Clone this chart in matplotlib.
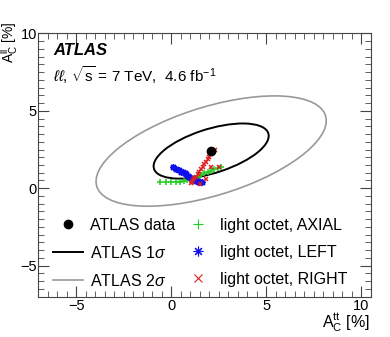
import numpy as np
import matplotlib.pyplot as plt
from matplotlib.patches import Ellipse
from matplotlib.lines import Line2D
from matplotlib.ticker import MultipleLocator

plt.rcParams["font.family"] = ["Liberation Sans", "DejaVu Sans"]
plt.rcParams["mathtext.fontset"] = "custom"
plt.rcParams["mathtext.rm"] = "Liberation Sans"
plt.rcParams["mathtext.it"] = "Liberation Sans:italic"

# ATLAS measurement (A_C^tt, A_C^ll) in %
data_x = [2.1]
data_y = [2.4]
# 1 sigma ellipse parameters
sig_x = 3.03
sig_y = 1.78
rho = 0.55

# light octet predictions
axial_x = [-0.58, -0.30, -0.04, 0.23, 0.47, 0.66, 0.85, 1.00, 1.13, 1.31, 1.45, 1.57, 1.75, 1.92, 2.10, 2.27, 2.45, 2.62]
axial_y = [0.39, 0.39, 0.39, 0.41, 0.43, 0.47, 0.50, 0.52, 0.54, 0.64, 0.76, 0.86, 0.97, 1.03, 1.14, 1.25, 1.33, 1.39]
left_x = [0.10, 0.25, 0.40, 0.52, 0.62, 0.70, 0.79, 0.87, 0.96, 1.05, 1.13, 1.22, 1.31, 1.40, 1.48, 1.62]
left_y = [1.35, 1.27, 1.18, 1.07, 1.02, 0.97, 0.90, 0.81, 0.72, 0.64, 0.60, 0.54, 0.49, 0.45, 0.42, 0.40]
right_x = [1.05, 1.10, 1.13, 1.22, 1.31, 1.40, 1.48, 1.57, 1.66, 1.75, 1.83, 1.92, 2.01, 2.10, 2.22, 2.32, 1.83, 2.10, 2.53, 1.50]
right_y = [0.32, 0.39, 0.54, 0.64, 0.75, 0.90, 1.07, 1.23, 1.39, 1.55, 1.72, 1.88, 2.04, 2.20, 2.36, 2.45, 0.60, 1.39, 1.39, 0.30]

green = "#22cc22"
blue = "#1010ee"
red = "#e02020"
star = (8, 2, 0)  # asterisk made of + and x

fig = plt.figure(figsize=(3.9, 3.37), dpi=100)
ax = fig.add_axes([38.3 / 390, 1 - 296.7 / 337, 332.4 / 390, 263.4 / 337])

cov = np.array([[sig_x**2, rho * sig_x * sig_y], [rho * sig_x * sig_y, sig_y**2]])
vals, vecs = np.linalg.eigh(cov)
angle = np.degrees(np.arctan2(vecs[1, 1], vecs[0, 1]))
for n, col, lw in [(1, "black", 1.4), (2, "#999999", 1.2)]:
    ax.add_patch(Ellipse((data_x[0], data_y[0]), 2 * n * np.sqrt(vals[1]), 2 * n * np.sqrt(vals[0]),
                         angle=angle, fill=False, color=col, lw=lw))

ax.plot(axial_x, axial_y, "+", color=green, ms=4.5, mew=1.1, ls="none")
ax.plot(left_x, left_y, marker=star, color=blue, ms=5, mew=1.0, ls="none")
ax.plot(right_x, right_y, "x", color=red, ms=3.5, mew=1.1, ls="none")
ax.plot(data_x, data_y, "o", color="black", ms=6)

ax.set_xlim(-7, 10.5)
ax.set_ylim(-7, 10)
ax.xaxis.set_major_locator(MultipleLocator(5))
ax.xaxis.set_minor_locator(MultipleLocator(0.5))
ax.yaxis.set_major_locator(MultipleLocator(5))
ax.yaxis.set_minor_locator(MultipleLocator(0.5))
ax.tick_params(which="both", direction="in", top=True, right=True, labelsize=10.5, color="#444444")
ax.tick_params(which="major", length=8, pad=1.5)
ax.tick_params(axis="y", which="major", pad=1)
ax.tick_params(which="minor", length=4)
for s in ax.spines.values():
    s.set_color("#444444")

fig.text(9.5 / 390, 1 - 21 / 337, r"A$_\mathrm{C}^\mathrm{ll}$ [%]", rotation=90, ha="center", va="top", fontsize=10)
fig.text(370 / 390, 1 - 328 / 337, r"A$_\mathrm{C}^\mathrm{tt}$ [%]", ha="right", va="baseline", fontsize=11.5)

ax.text(0.044, 0.933, "ATLAS", transform=ax.transAxes, fontsize=12, fontweight="bold", style="italic", va="center")
ax.text(0.044, 0.842, r"$\ell\ell$, $\sqrt{\mathrm{s}}$ = 7 TeV,  4.6 fb$^{-1}$", transform=ax.transAxes,
        fontsize=11, va="center")

handles = [
    Line2D([], [], marker="o", color="black", ls="none", ms=6),
    Line2D([], [], color="black", lw=1.4),
    Line2D([], [], color="#999999", lw=1.2),
    Line2D([], [], marker="+", color=green, ls="none", ms=7, mew=0.8),
    Line2D([], [], marker=star, color=blue, ls="none", ms=7, mew=0.8),
    Line2D([], [], marker="x", color=red, ls="none", ms=5.5, mew=0.8),
]
labels = ["ATLAS data", r"ATLAS 1$\sigma$", r"ATLAS 2$\sigma$",
          "light octet, AXIAL", "light octet, LEFT", "light octet, RIGHT"]
ax.legend(handles, labels, ncol=2, loc="center left", bbox_to_anchor=(0.044, 0.165), frameon=False,
          borderpad=0, borderaxespad=0, fontsize=11.5, handlelength=1.9, handletextpad=0.4,
          columnspacing=0.5, labelspacing=0.75)

fig.savefig("out.png", dpi=100)
